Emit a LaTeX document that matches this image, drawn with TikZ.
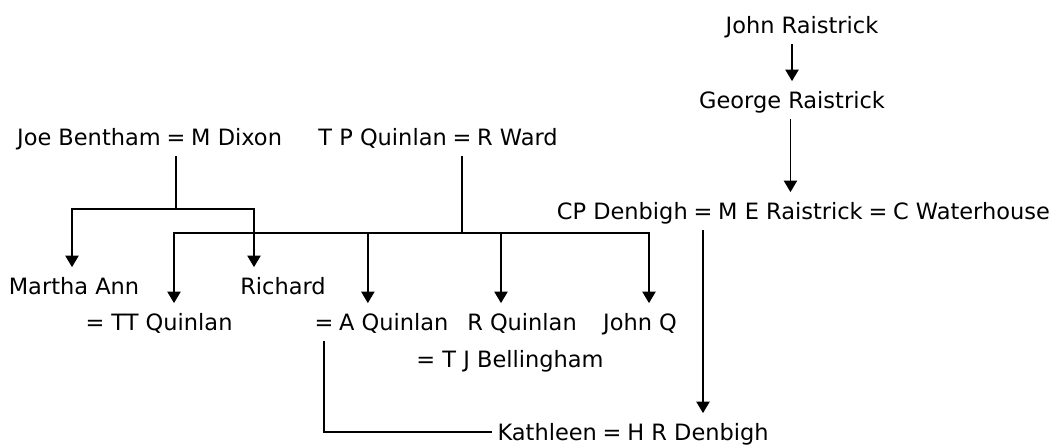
\documentclass[tikz,border=0pt]{standalone}
\usepackage{fontspec}
\setmainfont{DejaVu Sans}
\usetikzlibrary{arrows.meta,calc,positioning}
\tikzset{
  person/.style={inner xsep=0pt, inner ysep=5.7pt, text height=9.3pt, text depth=0pt,
    font=\fontsize{12.8}{15}\selectfont},
  arr/.style={-{Triangle[width=7.5pt,length=6.5pt]}},
}
\begin{document}
\begin{tikzpicture}[x=0.02cm, y=-0.02cm, line width=0.8pt, node distance=2.5pt]
  \useasboundingbox (0,0) rectangle (1051,444);

  % Raistrick
  \node[person] (jr) at (802,25) {John Raistrick};
  \node[person] (gr) at (792,100) {George Raistrick};

  % Denbigh = Raistrick = Waterhouse
  \node[person] (cpeq) at (703,211) {=};
  \node[person, left=of cpeq] (cp) {CP Denbigh};
  \node[person, right=of cpeq] (mer) {M E Raistrick};
  \node[person, right=of mer] (cweq) {=};
  \node[person, right=of cweq] (cw) {C Waterhouse};

  % Bentham = Dixon
  \node[person] (jbeq) at (176,137) {=};
  \node[person, left=of jbeq] (jb) {Joe Bentham};
  \node[person, right=of jbeq] (md) {M Dixon};

  % Quinlan = Ward
  \node[person] (tpeq) at (462,137) {=};
  \node[person, left=of tpeq] (tpq) {T P Quinlan};
  \node[person, right=of tpeq] (rw) {R Ward};

  % children
  \node[person] (ma) at (74,286) {Martha Ann};
  \node[person] (ri) at (283,286) {Richard};
  \node[person] (ttq) at (159,322) {= TT Quinlan};
  \node[person] (aqeq) at (324,322) {=};
  \node[person, right=of aqeq] (aq) {A Quinlan};
  \node[person] (rq) at (522,322) {R Quinlan};
  \node[person] (jq) at (640,322) {John Q};
  \node[person] (tjb) at (510,359) {= T J Bellingham};

  % Kathleen = H R Denbigh
  \node[person] (hrd) at (698,432) {H R Denbigh};
  \node[person, left=of hrd] (kdeq) {=};
  \node[person, left=of kdeq] (kath) {Kathleen};

  \coordinate (jbbar) at (176,209);
  \coordinate (tpbar) at (462,233);

  \draw[arr] (gr.north |- jr.south) -- (gr.north);
  \draw[arr] (gr.south -| mer.north) -- (mer.north);
  \draw[arr] (cpeq.south) -- (cpeq.south |- hrd.north);

  \draw (jbeq.south) -- (jbbar);
  \draw[arr] (jbbar) -| ($(ma.north)+(-2,0)$);
  \draw[arr] (jbbar) -| ($(ri.north)+(-29,0)$);

  \draw (tpeq.south) -- (tpbar);
  \draw[arr] (tpbar) -| ($(ttq.north)+(15,0)$);
  \draw[arr] (tpbar) -| ($(aq.north)+(-26,0)$);
  \draw[arr] (tpbar) -| ($(rq.north)+(-21,0)$);
  \draw[arr] (tpbar) -| ($(jq.north)+(9,0)$);

  \draw (aqeq.south) |- ($(kath.west)+(-5,0)$);
\end{tikzpicture}
\end{document}
